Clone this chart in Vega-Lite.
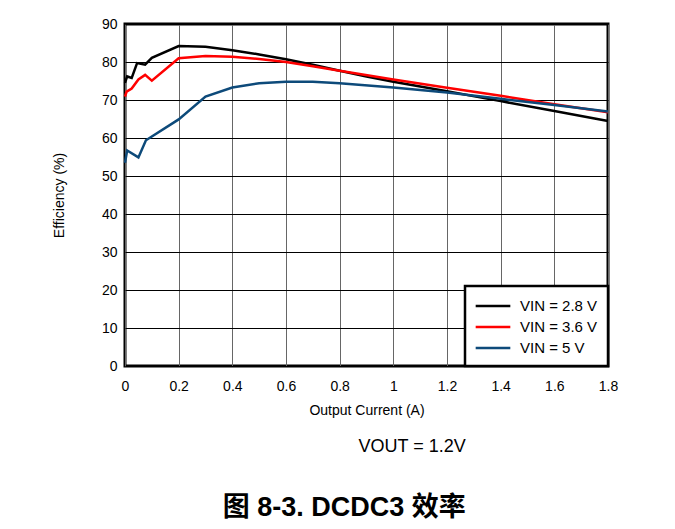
{
  "$schema": "https://vega.github.io/schema/vega-lite/v6.json",
  "width": 483,
  "height": 342,
  "autosize": {"type": "none"},
  "padding": {"left": 125, "top": 24, "right": 67, "bottom": 163},
  "background": "white",
  "config": {
    "font": "Liberation Sans",
    "view": {"stroke": "black", "strokeWidth": 3},
    "axis": {"labelFont": "Liberation Sans", "titleFont": "Liberation Sans", "labelColor": "black", "titleColor": "black", "titleFontWeight": "normal"}
  },
  "title": {
    "text": "VOUT = 1.2V",
    "subtitle": "图 8-3. DCDC3 效率",
    "orient": "bottom",
    "anchor": "end",
    "dx": -152,
    "offset": 21,
    "font": "Liberation Sans",
    "fontSize": 18,
    "fontWeight": "normal",
    "color": "black",
    "subtitleFont": "Liberation Sans, Noto Sans CJK SC",
    "subtitleFontSize": 27,
    "subtitleFontWeight": "bold",
    "subtitleColor": "black",
    "subtitlePadding": 39
  },
  "data": {
    "values": [
      {"I": 0, "eff": 74.5, "s": "VIN = 2.8 V"},
      {"I": 0.008, "eff": 76.2, "s": "VIN = 2.8 V"},
      {"I": 0.025, "eff": 75.8, "s": "VIN = 2.8 V"},
      {"I": 0.045, "eff": 79.7, "s": "VIN = 2.8 V"},
      {"I": 0.075, "eff": 79.3, "s": "VIN = 2.8 V"},
      {"I": 0.1, "eff": 81.1, "s": "VIN = 2.8 V"},
      {"I": 0.2, "eff": 84.2, "s": "VIN = 2.8 V"},
      {"I": 0.3, "eff": 84.0, "s": "VIN = 2.8 V"},
      {"I": 0.4, "eff": 83.1, "s": "VIN = 2.8 V"},
      {"I": 0.5, "eff": 82.0, "s": "VIN = 2.8 V"},
      {"I": 0.6, "eff": 80.7, "s": "VIN = 2.8 V"},
      {"I": 0.7, "eff": 79.3, "s": "VIN = 2.8 V"},
      {"I": 0.8, "eff": 77.7, "s": "VIN = 2.8 V"},
      {"I": 0.9, "eff": 76.2, "s": "VIN = 2.8 V"},
      {"I": 1.0, "eff": 74.8, "s": "VIN = 2.8 V"},
      {"I": 1.2, "eff": 72.3, "s": "VIN = 2.8 V"},
      {"I": 1.4, "eff": 69.7, "s": "VIN = 2.8 V"},
      {"I": 1.6, "eff": 67.1, "s": "VIN = 2.8 V"},
      {"I": 1.8, "eff": 64.5, "s": "VIN = 2.8 V"},
      {"I": 0, "eff": 70.9, "s": "VIN = 3.6 V"},
      {"I": 0.006, "eff": 72.2, "s": "VIN = 3.6 V"},
      {"I": 0.025, "eff": 73.0, "s": "VIN = 3.6 V"},
      {"I": 0.05, "eff": 75.4, "s": "VIN = 3.6 V"},
      {"I": 0.075, "eff": 76.6, "s": "VIN = 3.6 V"},
      {"I": 0.1, "eff": 75.1, "s": "VIN = 3.6 V"},
      {"I": 0.2, "eff": 81.0, "s": "VIN = 3.6 V"},
      {"I": 0.3, "eff": 81.6, "s": "VIN = 3.6 V"},
      {"I": 0.4, "eff": 81.4, "s": "VIN = 3.6 V"},
      {"I": 0.5, "eff": 80.8, "s": "VIN = 3.6 V"},
      {"I": 0.6, "eff": 80.0, "s": "VIN = 3.6 V"},
      {"I": 0.7, "eff": 78.9, "s": "VIN = 3.6 V"},
      {"I": 0.8, "eff": 77.7, "s": "VIN = 3.6 V"},
      {"I": 1.0, "eff": 75.4, "s": "VIN = 3.6 V"},
      {"I": 1.2, "eff": 73.2, "s": "VIN = 3.6 V"},
      {"I": 1.4, "eff": 71.1, "s": "VIN = 3.6 V"},
      {"I": 1.6, "eff": 68.9, "s": "VIN = 3.6 V"},
      {"I": 1.8, "eff": 66.8, "s": "VIN = 3.6 V"},
      {"I": 0, "eff": 53.5, "s": "VIN = 5 V"},
      {"I": 0.008, "eff": 56.7, "s": "VIN = 5 V"},
      {"I": 0.05, "eff": 54.9, "s": "VIN = 5 V"},
      {"I": 0.078, "eff": 59.4, "s": "VIN = 5 V"},
      {"I": 0.2, "eff": 64.9, "s": "VIN = 5 V"},
      {"I": 0.3, "eff": 70.9, "s": "VIN = 5 V"},
      {"I": 0.4, "eff": 73.3, "s": "VIN = 5 V"},
      {"I": 0.5, "eff": 74.4, "s": "VIN = 5 V"},
      {"I": 0.6, "eff": 74.8, "s": "VIN = 5 V"},
      {"I": 0.7, "eff": 74.8, "s": "VIN = 5 V"},
      {"I": 0.8, "eff": 74.4, "s": "VIN = 5 V"},
      {"I": 1.0, "eff": 73.3, "s": "VIN = 5 V"},
      {"I": 1.2, "eff": 72.0, "s": "VIN = 5 V"},
      {"I": 1.4, "eff": 70.3, "s": "VIN = 5 V"},
      {"I": 1.6, "eff": 68.7, "s": "VIN = 5 V"},
      {"I": 1.8, "eff": 67.0, "s": "VIN = 5 V"}
    ]
  },
  "mark": {"type": "line", "strokeWidth": 2.5},
  "encoding": {
    "x": {
      "field": "I", "type": "quantitative",
      "scale": {"domain": [0, 1.8], "nice": false},
      "axis": {
        "title": "Output Current (A)",
        "values": [0, 0.2, 0.4, 0.6, 0.8, 1, 1.2, 1.4, 1.6, 1.8],
        "format": "~g",
        "labelFlush": false,
        "grid": true, "gridColor": "#666", "gridWidth": 1, "gridOpacity": 1,
        "domain": false, "ticks": false,
        "labelFontSize": 14, "labelPadding": 13,
        "titleFontSize": 14, "titlePadding": 10
      }
    },
    "y": {
      "field": "eff", "type": "quantitative",
      "scale": {"domain": [0, 90], "nice": false},
      "axis": {
        "title": "Efficiency (%)",
        "values": [0, 10, 20, 30, 40, 50, 60, 70, 80, 90],
        "grid": true, "gridColor": "black", "gridWidth": 1, "gridOpacity": 1,
        "domain": false, "ticks": false,
        "labelFontSize": 14, "labelPadding": 8,
        "titleFontSize": 14, "titlePadding": 35
      }
    },
    "color": {
      "field": "s", "type": "nominal",
      "scale": {"domain": ["VIN = 2.8 V", "VIN = 3.6 V", "VIN = 5 V"], "range": ["#000000", "#ff0000", "#0d4a7a"]},
      "legend": {
        "title": null,
        "orient": "bottom-right",
        "offset": 0,
        "symbolType": "M-2,0H2",
        "symbolSize": 300,
        "symbolStrokeWidth": 2.5,
        "symbolOffset": 8,
        "labelFontSize": 15,
        "labelFont": "Liberation Sans",
        "labelColor": "black",
        "fillColor": "white",
        "strokeColor": "black",
        "padding": 10,
        "rowPadding": 3,
        "labelOffset": 17,
        "encode": {"legend": {"update": {"strokeWidth": {"value": 2.5}}}}
      }
    }
  }
}
